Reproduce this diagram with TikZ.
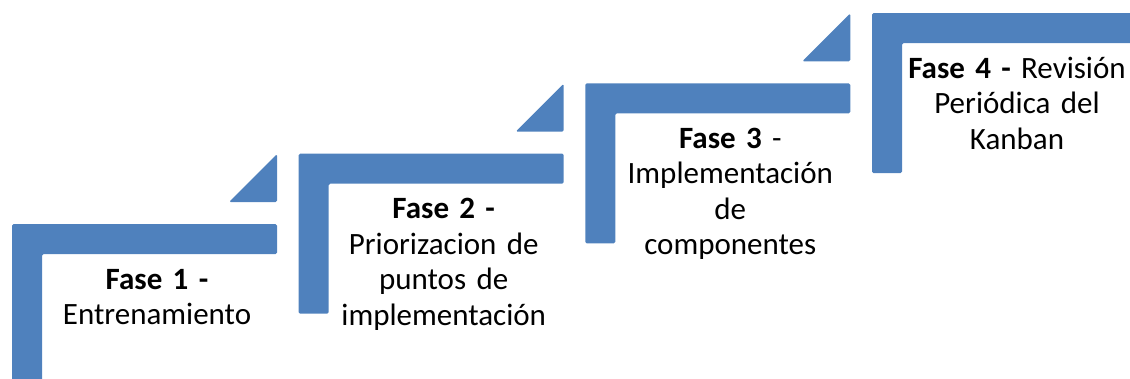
\documentclass[tikz,border=0pt]{standalone}
\usepackage{fontspec}
\setmainfont{Carlito}
\usepackage{xcolor}
\definecolor{stepblue}{HTML}{4F81BD}

\begin{document}
\begin{tikzpicture}[x=1pt, y=-1pt,
  stair/.style={fill=stepblue, rounded corners=1.5pt},
  fase/.style={anchor=base, text width=235pt, align=center, inner sep=0pt, font=\fontsize{31}{35.5}\selectfont}]
\useasboundingbox (0,0) rectangle (1130,378);
\clip (0,0) rectangle (1130,378);
% fase 1
\fill[stair] (12,224) -- (277,224) -- (277,254) -- (42,254) -- (42,390) -- (12,390) -- cycle;
\fill[stair] (277,154) -- (277,202) -- (229,202) -- cycle;
\node[fase] (f1) at (157,289) {\textbf{Fase 1 -}\\Entrenamiento};
% fase 2
\fill[stair] (298.7,153.7) -- (563.7,153.7) -- (563.7,183.7) -- (328.7,183.7) -- (328.7,313.7) -- (298.7,313.7) -- cycle;
\fill[stair] (563.7,83.7) -- (563.7,131.7) -- (515.7,131.7) -- cycle;
\node[fase] (f2) at (443.7,218.7) {\textbf{Fase 2 -}\\Priorizacion de\\puntos de\\implementación};
% fase 3
\fill[stair] (585.3,83.4) -- (850.3,83.4) -- (850.3,113.4) -- (615.3,113.4) -- (615.3,243.4) -- (585.3,243.4) -- cycle;
\fill[stair] (850.3,13.4) -- (850.3,61.4) -- (802.3,61.4) -- cycle;
\node[fase] (f3) at (730.3,148.4) {\textbf{Fase 3} -\\Implementación\\de\\componentes};
% fase 4
\fill[stair] (872,13.1) -- (1137,13.1) -- (1137,43.1) -- (902,43.1) -- (902,173.1) -- (872,173.1) -- cycle;
\node[fase] (f4) at (1017,78.1) {\textbf{Fase 4 -} Revisión\\Periódica del\\Kanban};
\end{tikzpicture}
\end{document}
